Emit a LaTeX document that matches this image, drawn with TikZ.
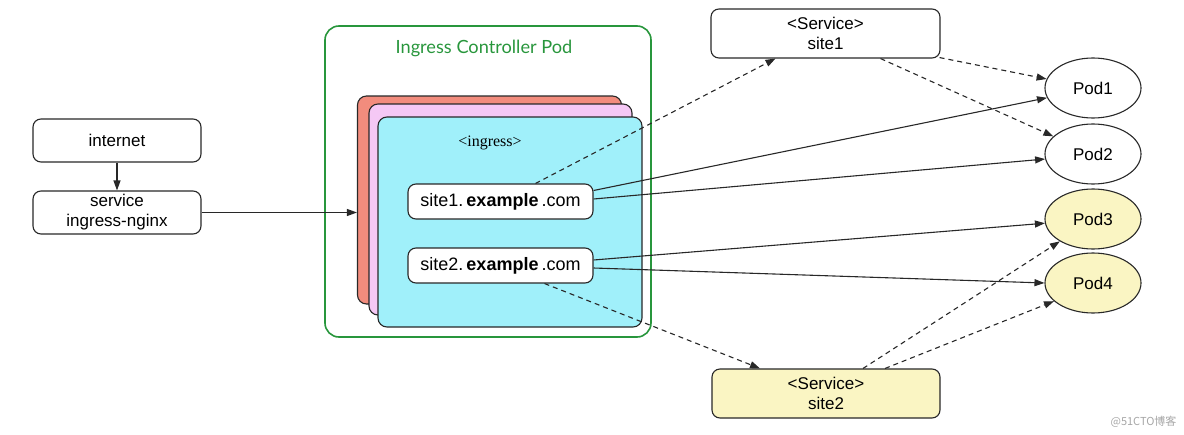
\documentclass[tikz,border=0pt]{standalone}
\usepackage{fontspec}
\setmainfont{Liberation Sans}
\newfontfamily\titlefont{Lato}
\newfontfamily\seriffont{Liberation Serif}
\newfontfamily\cjkfont{Noto Sans CJK SC}
\usetikzlibrary{arrows.meta,shapes.geometric,calc}
\definecolor{greenc}{RGB}{40,150,60}
\definecolor{redc}{RGB}{242,140,125}
\definecolor{pinkc}{RGB}{245,200,245}
\definecolor{cyanc}{RGB}{160,240,250}
\definecolor{yellowc}{RGB}{250,245,195}
\definecolor{linec}{RGB}{40,40,40}
\tikzset{
  box/.style={draw=linec, line width=1.1pt, rounded corners=8pt, fill=white, inner sep=0pt, align=center, font=\fontsize{17}{20}\selectfont},
  card/.style={draw=linec, line width=1.1pt, rounded corners=9pt, inner sep=0pt},
  pod/.style={ellipse, draw=linec, line width=1.1pt, fill=white, minimum width=96pt, minimum height=60pt, inner sep=0pt, font=\fontsize{17}{20}\selectfont},
  link/.style={draw=linec, line width=1.1pt, -{Triangle[length=10pt,width=7pt]}},
  dlink/.style={link, dash pattern=on 5pt off 4pt},
}
\begin{document}
\begin{tikzpicture}[x=1pt,y=-1pt]
\useasboundingbox (0,0) rectangle (1184,434);
% left
\node[box, minimum width=168pt, minimum height=43pt] (internet) at (117,140.5) {internet};
\node[box, minimum width=168pt, minimum height=43pt] (service) at (117,212.5) {service\\ingress-nginx};
% controller pod
\node[draw=greenc, line width=1.6pt, rounded corners=14pt, minimum width=326pt, minimum height=311pt, inner sep=0pt] (ctrl) at (488,181.5) {};
\node[text=greenc, font=\titlefont\fontsize{18.2}{20}\selectfont] (title) at (484,48) {Ingress Controller Pod};
\node[card, fill=redc, minimum width=264pt, minimum height=208pt] (red) at (489.5,200) {};
\node[card, fill=pinkc, minimum width=263pt, minimum height=211pt] (pink) at (500.5,209.5) {};
\node[card, fill=cyanc, minimum width=264pt, minimum height=210pt] (cyan) at (510,222) {};
\node[font=\seriffont\fontsize{16}{18}\selectfont] (ing) at (490,143) {<ingress>};
\node[box, minimum width=185pt, minimum height=35pt, font=\fontsize{18}{20}\selectfont] (site1) at (500.5,201.5) {site1.\,\textbf{example}\,.com};
\node[box, minimum width=185pt, minimum height=35pt, font=\fontsize{18}{20}\selectfont] (site2) at (500.5,265.5) {site2.\,\textbf{example}\,.com};
% services
\node[box, minimum width=229pt, minimum height=49pt] (svc1) at (825.5,33.5) {<Service>\\site1};
\node[box, fill=yellowc, minimum width=228pt, minimum height=49pt] (svc2) at (826,393.5) {<Service>\\site2};
% pods
\node[pod] (pod1) at (1093,88) {Pod1};
\node[pod] (pod2) at (1093,154) {Pod2};
\node[pod, fill=yellowc] (pod3) at (1093,219) {Pod3};
\node[pod, fill=yellowc] (pod4) at (1093,283) {Pod4};
% connectors
\draw[link] (internet) -- (service);
\draw[link] (service.east) -- (red.west |- service.east);
\draw[dlink] ([xshift=35pt]site1.north) -- ([xshift=-50pt]svc1.south);
\draw[dlink] ([xshift=-1pt,yshift=1pt]svc1.south east) -- (pod1.169);
\draw[dlink] ([xshift=55pt]svc1.south) -- (pod2.156);
\draw[link] ([yshift=11pt]site1.east) -- (pod1.192);
\draw[link] ([yshift=2.5pt]site1.east) -- (pod2.186);
\draw[link] ([yshift=5.5pt]site2.east) -- (pod3.185);
\draw[link] ([yshift=-2.5pt]site2.east) -- (pod4.180);
\draw[dlink] ([xshift=44pt]site2.south) -- ([xshift=-66pt]svc2.north);
\draw[dlink] ([xshift=37pt]svc2.north) -- (pod3.214);
\draw[dlink] ([xshift=59pt]svc2.north) -- (pod4.205);
% watermark
\node[text=black!35, font=\cjkfont\fontsize{11}{13}\selectfont, anchor=east] (wm) at (1180,422) {@51CTO博客};
\end{tikzpicture}
\end{document}
